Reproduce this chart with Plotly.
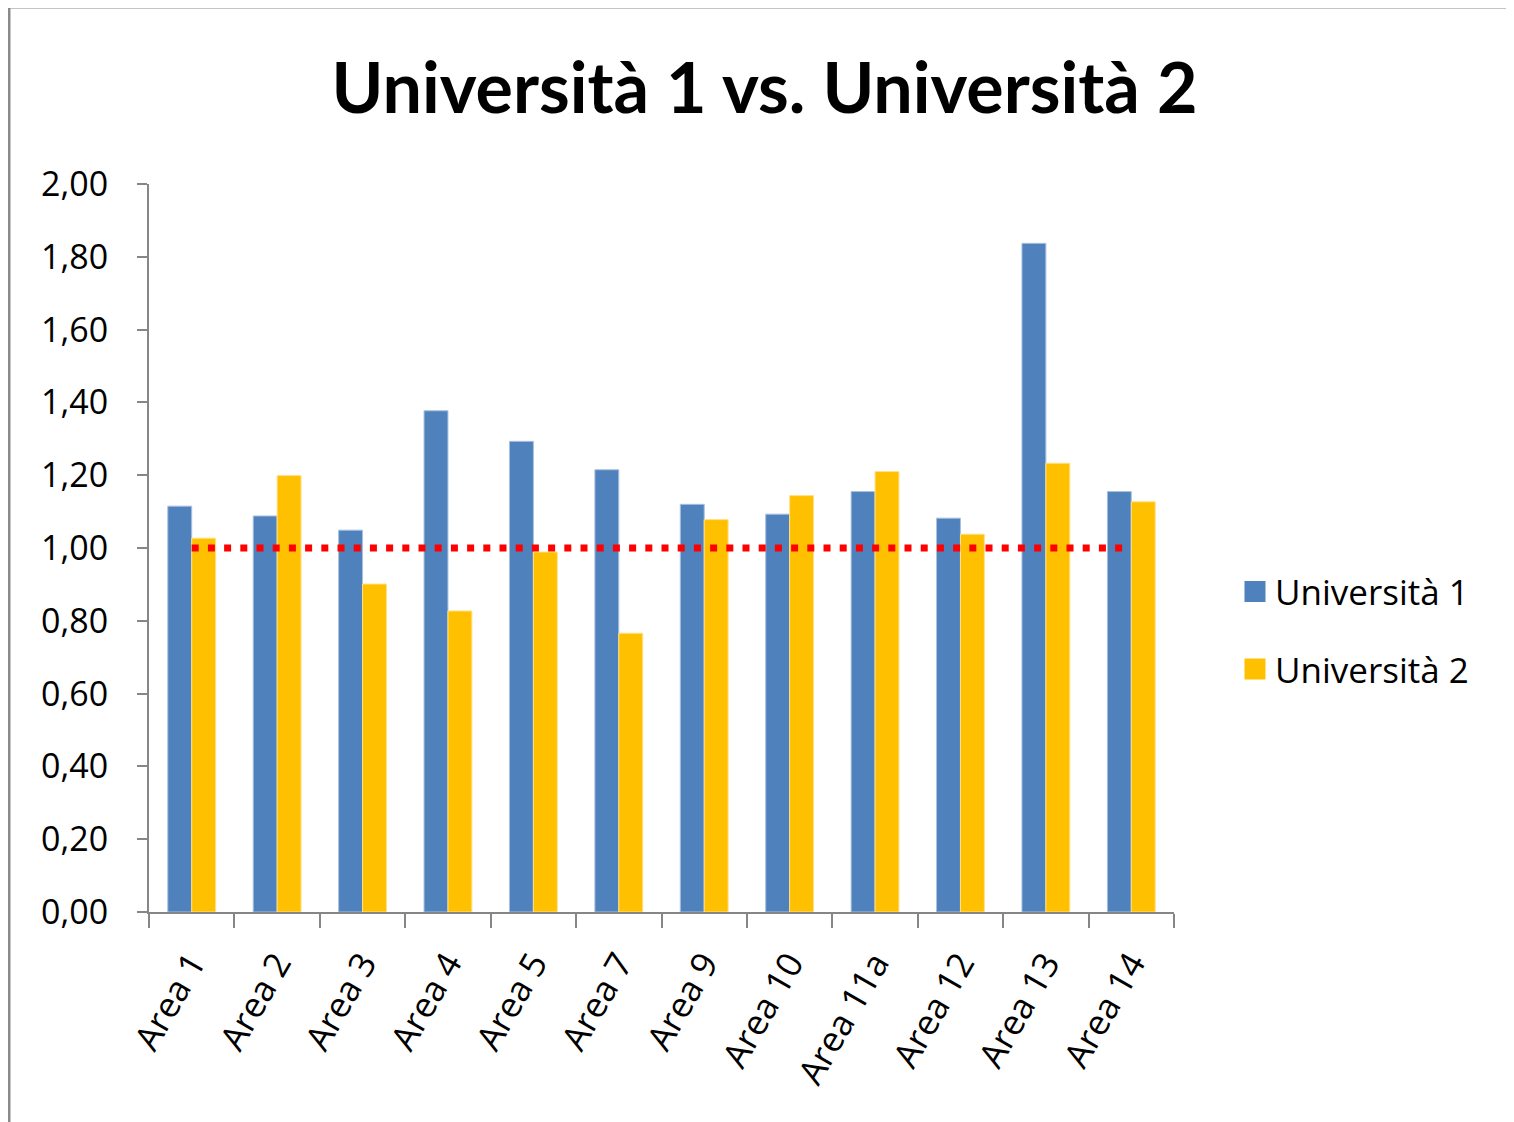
import plotly.graph_objects as go

categories = ["Area 1", "Area 2", "Area 3", "Area 4", "Area 5", "Area 7", "Area 9",
              "Area 10", "Area 11a", "Area 12", "Area 13", "Area 14"]
uni1 = [1.115, 1.088, 1.049, 1.377, 1.293, 1.215, 1.120, 1.093, 1.155, 1.082, 1.837, 1.155]
uni2 = [1.027, 1.199, 0.901, 0.827, 0.989, 0.766, 1.078, 1.144, 1.210, 1.038, 1.233, 1.127]
reference = [1.0] * len(categories)
series_names = ["Università 1", "Università 2"]
title_text = "Università 1 vs. Università 2"

FONT = "Open Sans"
AXIS_COLOR = "#868686"
BLUE = "#4F81BD"
YELLOW = "#FFC000"

fig = go.Figure()
fig.add_trace(go.Bar(x=categories, y=uni1, name=series_names[0], showlegend=False,
                     marker=dict(color=BLUE, line=dict(color="#A9C0DE", width=1))))
fig.add_trace(go.Bar(x=categories, y=uni2, name=series_names[1], showlegend=False,
                     marker=dict(color=YELLOW, line=dict(color="#FFE08A", width=1))))
fig.add_trace(go.Scatter(x=categories, y=reference, mode="lines", showlegend=False,
                         line=dict(color="#FF0000", width=7, dash="7px,9.2px")))
# legend entries with larger square keys
for nm, col, grp in [(series_names[0], BLUE, "a"), (series_names[1], YELLOW, "b")]:
    fig.add_trace(go.Scatter(x=[None], y=[None], mode="markers", name=nm, legendgroup=grp,
                             marker=dict(symbol="square", size=16, color=col,
                                         line=dict(color=col, width=5))))

# outer frame (decorative)
fig.add_shape(type="rect", xref="paper", yref="paper",
              x0=-0.1366, x1=1.34, y0=-0.31, y1=1.2431,
              line=dict(color="#8A8A8A", width=3), fillcolor="white", layer="below")

fig.update_layout(
    width=1514, height=1122,
    margin=dict(l=141, r=348, t=176, b=218),
    paper_bgcolor="#F0F5F8", plot_bgcolor="white",
    separators=",.",
    font=dict(family=FONT, color="#000000"),
    title=dict(text="<b>" + title_text + "</b>", x=0.4997, xanchor="center",
               yref="container", y=0.928, yanchor="middle",
               font=dict(family="Lato", size=70, color="#000")),
    bargap=0.44, bargroupgap=0,
    showlegend=True,
    legend=dict(x=1.0595, y=0.387, xanchor="left", yanchor="middle",
                bgcolor="rgba(0,0,0,0)",
                font=dict(family=FONT, size=35, color="#000"),
                tracegroupgap=29, traceorder="grouped"),
)
fig.update_xaxes(type="category", showline=True, linecolor=AXIS_COLOR, linewidth=2,
                 ticks="outside", ticklen=14, tickcolor=AXIS_COLOR, tickwidth=2,
                 tickson="boundaries", tickangle=-60, showgrid=False,
                 ticklabelstandoff=15,
                 tickfont=dict(family=FONT, size=35, color="#000"),
                 range=[-0.5, 11.5])
fig.update_yaxes(range=[0, 2], dtick=0.2, tickformat=".2f", showline=True,
                 linecolor=AXIS_COLOR, linewidth=2, ticks="outside", ticklen=10,
                 tickcolor=AXIS_COLOR, tickwidth=2, showgrid=False, zeroline=False,
                 ticklabelstandoff=22,
                 tickfont=dict(family=FONT, size=34, color="#000"))

fig.write_html("out.html")
